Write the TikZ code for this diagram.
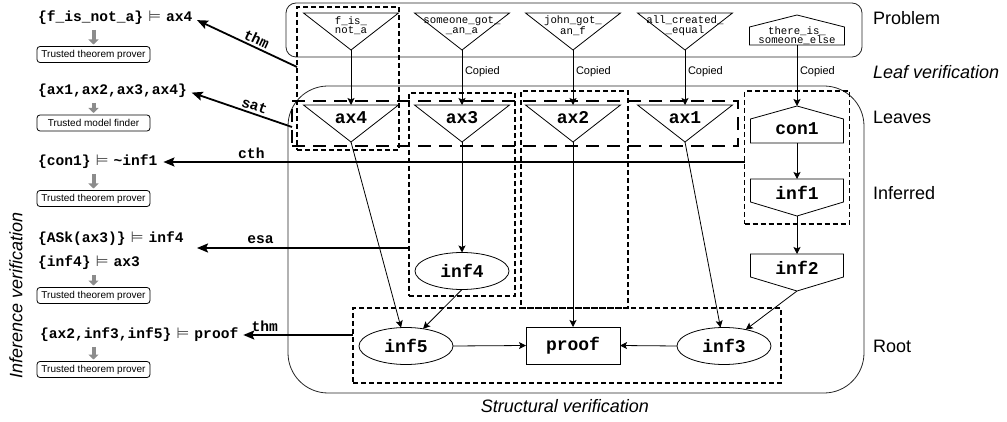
\documentclass[tikz,border=0pt]{standalone}
\usepackage{fontspec}
\setmainfont{Liberation Sans}
\newfontfamily\cmono{Liberation Mono}
\newfontfamily\symfont{DejaVu Sans}
\usetikzlibrary{arrows.meta,shapes.geometric,calc}

% semantic-entailment sign between a premise set and its conclusion
\newcommand\entails{\hspace{5pt}{\symfont\mdseries\color{black!70}\fontsize{15}{15}\selectfont ⊨}\hspace{5pt}}

\tikzset{
  every node/.style={inner sep=0pt,outer sep=0pt},
  region/.style={draw=black!85,line width=0.8pt},
  sbox/.style={draw,line width=1.6pt,dash pattern=on 5pt off 3pt},
  lbox/.style={draw,line width=1.6pt,dash pattern=on 13pt off 8pt},
  shp/.style={draw,line width=0.8pt,line join=miter},
  frame/.style={minimum width=95pt,minimum height=37pt},
  idtext/.style={font=\cmono\bfseries\fontsize{18}{20}\selectfont},
  smalltext/.style={font=\cmono\fontsize{10.7}{9.5}\selectfont,align=center},
  ellnode/.style={ellipse,draw,line width=0.8pt,minimum width=94pt,minimum height=37pt,idtext},
  boxed/.style={rectangle,draw,line width=0.8pt,minimum width=94pt,minimum height=37pt,idtext},
  flow/.style={line width=0.8pt,-{Stealth[length=7pt,width=7pt,inset=1.5pt]}},
  copied/.style={font=\fontsize{11}{12}\selectfont},
  claim/.style={font=\cmono\bfseries\fontsize{14.6}{16}\selectfont,anchor=west},
  checker/.style={draw,line width=0.8pt,rounded corners=3pt,minimum width=113pt,minimum height=16pt,font=\fontsize{10}{11}\selectfont},
  grayarrow/.style={draw=black!45,line width=4pt,-{Triangle[length=5pt,width=10pt]},shorten <=5pt,shorten >=2pt},
  callarrow/.style={line width=1.8pt,-{Stealth[length=11pt,width=9pt,inset=2pt]}},
  rulename/.style={font=\cmono\bfseries\fontsize{14.6}{16}\selectfont},
  side/.style={font=\fontsize{18}{20}\selectfont,anchor=west},
  sideit/.style={font=\itshape\fontsize{18}{20}\selectfont},
}

\begin{document}
\begin{tikzpicture}[x=1pt,y=-1pt]
\useasboundingbox (0,0) rectangle (1007,422);

% problem frame and structural frame
\node[region,rounded corners=10pt,minimum width=576pt,minimum height=54pt] (problem) at (574,30) {};
\node[region,rounded corners=40pt,minimum width=576pt,minimum height=307pt] (structure) at (576,239.5) {};

% groups checked together
\node[sbox,minimum width=102pt,minimum height=143pt] (boxA) at (348,78.5) {};
\node[sbox,minimum width=106pt,minimum height=203pt] (boxB) at (462,194.5) {};
\node[sbox,minimum width=107pt,minimum height=217pt] (boxC) at (574.5,199.5) {};
\node[sbox,minimum width=105pt,minimum height=133pt] (boxD) at (797,157.5) {};
\node[sbox,minimum width=428pt,minimum height=75pt] (boxE) at (567,345.5) {};
\node[lbox,minimum width=446pt,minimum height=45pt] (boxF) at (515,123.5) {};

% problem formulae
\node[frame] (pf1) at (351,31.5) {};
\path[shp] (pf1.north west) -- (pf1.north east) -- (pf1.south) -- cycle;
\node[smalltext] at ([yshift=6pt]pf1.center) {f\_is\_\\not\_a};
\node[frame] (pf2) at (462,31.5) {};
\path[shp] (pf2.north west) -- (pf2.north east) -- (pf2.south) -- cycle;
\node[smalltext] at ([yshift=6pt]pf2.center) {someone\_got\_\\\_an\_a};
\node[frame] (pf3) at (573,31.5) {};
\path[shp] (pf3.north west) -- (pf3.north east) -- (pf3.south) -- cycle;
\node[smalltext] at ([yshift=6pt]pf3.center) {john\_got\_\\an\_f};
\node[frame] (pf4) at (685,31.5) {};
\path[shp] (pf4.north west) -- (pf4.north east) -- (pf4.south) -- cycle;
\node[smalltext] at ([yshift=6pt]pf4.center) {all\_created\_\\\_equal};
\node[frame,minimum height=30pt] (pf5) at (797,30) {};
\path[shp] (pf5.north) -- ($(pf5.north east)+(0,12)$) -- (pf5.south east) -- (pf5.south west) -- ($(pf5.north west)+(0,12)$) -- cycle;
\node[smalltext] at ([yshift=-5.5pt]pf5.center) {there\_is\_\\someone\_else};

% leaves
\node[frame] (ax4) at (351,123.5) {};
\path[shp] (ax4.north west) -- (ax4.north east) -- (ax4.south) -- cycle;
\node[idtext] at ([yshift=6pt]ax4.center) {ax4};
\node[frame] (ax3) at (462,123.5) {};
\path[shp] (ax3.north west) -- (ax3.north east) -- (ax3.south) -- cycle;
\node[idtext] at ([yshift=6pt]ax3.center) {ax3};
\node[frame] (ax2) at (573,123.5) {};
\path[shp] (ax2.north west) -- (ax2.north east) -- (ax2.south) -- cycle;
\node[idtext] at ([yshift=6pt]ax2.center) {ax2};
\node[frame] (ax1) at (685,123.5) {};
\path[shp] (ax1.north west) -- (ax1.north east) -- (ax1.south) -- cycle;
\node[idtext] at ([yshift=6pt]ax1.center) {ax1};
\node[frame,minimum width=93pt] (con1) at (797,124.5) {};
\path[shp] (con1.north) -- ($(con1.north east)+(0,13)$) -- (con1.south east) -- (con1.south west) -- ($(con1.north west)+(0,13)$) -- cycle;
\node[idtext] at ([yshift=-4pt]con1.center) {con1};

% inferred formulae
\node[frame,minimum width=93pt] (inf1) at (797,197.5) {};
\path[shp] (inf1.north west) -- (inf1.north east) -- ($(inf1.south east)+(0,-14)$) -- (inf1.south) -- ($(inf1.south west)+(0,-14)$) -- cycle;
\node[idtext] at ([yshift=4.5pt]inf1.center) {inf1};
\node[frame,minimum width=93pt] (inf2) at (797,272.5) {};
\path[shp] (inf2.north west) -- (inf2.north east) -- ($(inf2.south east)+(0,-14)$) -- (inf2.south) -- ($(inf2.south west)+(0,-14)$) -- cycle;
\node[idtext] at ([yshift=4.5pt]inf2.center) {inf2};
\node[ellnode] (inf4) at (462,271) {inf4};
\node[ellnode] (inf5) at (406,346) {inf5};
\node[boxed] (proof) at (573,345.5) {proof};
\node[ellnode] (inf3) at (724,346) {inf3};

% copying problem formulae into the derivation
\draw[flow] (pf1.south) -- (ax4.north);
\draw[flow] (pf2.south) -- (ax3.north) node[pos=0.4,right=3pt,copied] {Copied};
\draw[flow] (pf3.south) -- (ax2.north) node[pos=0.4,right=3pt,copied] {Copied};
\draw[flow] (pf4.south) -- (ax1.north) node[pos=0.4,right=3pt,copied] {Copied};
\draw[flow] (pf5.south) -- (con1.north) node[pos=0.44,right=3pt,copied] {Copied};

% derivation steps
\draw[flow] (ax3.south) -- (inf4.north);
\draw[flow] (ax4.south) -- (inf5);
\draw[flow] (inf4.south) -- (inf5);
\draw[flow] (ax2.south) -- (proof.north);
\draw[flow] (ax1.south) -- (inf3);
\draw[flow] (con1.south) -- (inf1.north);
\draw[flow] (inf1.south) -- (inf2.north);
\draw[flow] (inf2.south) -- (inf3);
\draw[flow] (inf5.east) -- (proof.west);
\draw[flow] (inf3.west) -- (proof.east);

% obligations handed to trusted systems
\node[claim] (c1) at (38,18) {\{f\_is\_not\_a\}\entails ax4};
\node[checker] (k1) at (93.5,54.5) {Trusted theorem prover};
\draw[grayarrow] (k1.north |- c1.south) -- (k1.north);
\node[claim] (c2) at (38,91) {\{ax1,ax2,ax3,ax4\}};
\node[checker] (k2) at (93.5,123) {Trusted model finder};
\draw[grayarrow] (k2.north |- c2.south) -- (k2.north);
\node[claim] (c3) at (38,162) {\{con1\}\entails\textasciitilde inf1};
\node[checker] (k3) at (93.5,198.5) {Trusted theorem prover};
\draw[grayarrow] (k3.north |- c3.south) -- (k3.north);
\node[claim] (c4) at (38,239) {\{ASk(ax3)\}\entails inf4};
\node[claim] (c5) at (38,263) {\{inf4\}\entails ax3};
\node[checker] (k4) at (93.5,295.5) {Trusted theorem prover};
\draw[grayarrow] (k4.north |- c5.south) -- (k4.north);
\node[claim] (c6) at (40,335) {\{ax2,inf3,inf5\}\entails proof};
\node[checker] (k5) at (93.5,369.5) {Trusted theorem prover};
\draw[grayarrow] (k5.north |- c6.south) -- (k5.north);

% inference checks
\coordinate (esatip) at (197,248);
\draw[callarrow,shorten >=5pt] ([yshift=11.5pt]boxA.west) -- (c1.east) node[pos=0.42,sloped,above=3pt,rulename] {thm};
\draw[callarrow,shorten >=5pt] ([yshift=-3.5pt]boxF.west) -- (c2.east) node[pos=0.38,sloped,above=3pt,rulename] {sat};
\draw[callarrow,shorten >=6pt] ([yshift=-4.5pt]boxD.west) -- (c3.east) node[pos=0.84,above=3pt,rulename] {cth};
\draw[callarrow] (boxB.west |- esatip) -- (esatip) node[pos=0.7,above=4pt,rulename] {esa};
\draw[callarrow,shorten >=5pt] ([yshift=10.5pt]boxE.west) -- (c6.east) node[pos=0.77,above=3pt,rulename] {thm};

% level captions
\node[side] (tProblem) at (873,18) {Problem};
\node[sideit,anchor=west] (tLeaf) at (873,72) {Leaf verification};
\node[side] (tLeaves) at (873,117) {Leaves};
\node[side] (tInferred) at (873,193) {Inferred};
\node[side] (tRoot) at (873,346) {Root};
\node[sideit] (tStruct) at (565,406) {Structural verification};
\node[sideit,rotate=90] (tInfer) at (16,295) {Inference verification};
\end{tikzpicture}
\end{document}
